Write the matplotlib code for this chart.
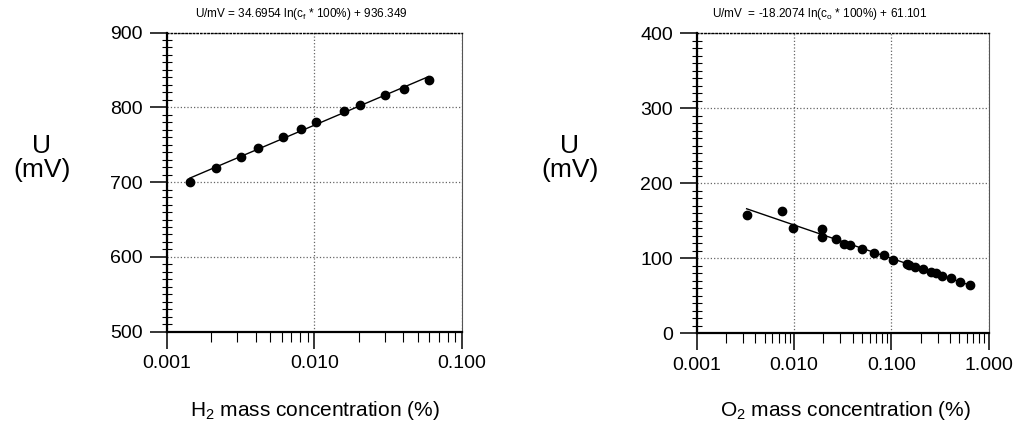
import numpy as np
import matplotlib
matplotlib.use("Agg")
import matplotlib.pyplot as plt
from matplotlib.ticker import LogLocator, MultipleLocator, FixedLocator, NullFormatter

plt.rcParams['font.family'] = ['Liberation Sans', 'DejaVu Sans']
plt.rcParams['mathtext.fontset'] = 'custom'
plt.rcParams['mathtext.rm'] = 'Liberation Sans'
plt.rcParams['mathtext.it'] = 'Liberation Sans'
plt.rcParams['mathtext.default'] = 'regular'

# ---- data ----
h2_conc = [0.00144, 0.00215, 0.00317, 0.00415, 0.0061, 0.0081, 0.0103,
           0.0159, 0.0205, 0.0302, 0.0402, 0.0594]
h2_mv = [700, 719, 734, 746, 760, 771, 781, 795, 803, 817, 825, 836]

o2_conc = [0.00326, 0.00753, 0.00977, 0.0195, 0.0195, 0.0272, 0.0327, 0.0381,
           0.0506, 0.0667, 0.0847, 0.104, 0.144, 0.152, 0.177, 0.210, 0.257,
           0.287, 0.332, 0.411, 0.514, 0.644]
o2_mv = [157.7, 163.1, 140.8, 139.5, 128.1, 125.6, 119.3, 118.0, 112.0, 107.5,
         104.1, 98.4, 92.9, 90.8, 88.4, 85.7, 82.0, 80.1, 76.4, 73.1, 68.8, 64.1]

h2_eq = "U/mV = 34.6954 ln(c$_f$ * 100%) + 936.349"
o2_eq = "U/mV  = -18.2074 ln(c$_o$ * 100%) + 61.101"

h2_xlim = (0.001, 0.1)
h2_ylim = (500, 900)
h2_xticks = [0.001, 0.01, 0.1]
h2_xticklabels = ["0.001", "0.010", "0.100"]

o2_xlim = (0.001, 1.0)
o2_ylim = (0, 400)
o2_xticks = [0.001, 0.01, 0.1, 1.0]
o2_xticklabels = ["0.001", "0.010", "0.100", "1.000"]

W, H = 1018, 437
fig = plt.figure(figsize=(W / 100, H / 100), dpi=100)


def px_axes(x0, x1, ytop, ybot):
    return fig.add_axes([x0 / W, 1 - ybot / H, (x1 - x0) / W, (ybot - ytop) / H])


def style(ax, xlim, ylim, xticks, xlabels):
    ax.set_xscale('log')
    ax.set_xlim(*xlim)
    ax.set_ylim(*ylim)
    ax.set_xticks(xticks)
    ax.set_xticklabels(xlabels)
    ax.xaxis.set_minor_locator(LogLocator(base=10, subs=np.arange(2, 10)))
    ax.xaxis.set_minor_formatter(NullFormatter())
    ax.yaxis.set_major_locator(MultipleLocator(100))
    ax.yaxis.set_minor_locator(MultipleLocator(10))
    ax.tick_params(which='major', direction='out', length=12, width=1.1,
                   labelsize=14, pad=5)
    ax.tick_params(axis='y', which='minor', direction='inout', length=7, width=0.8)
    ax.tick_params(axis='x', which='minor', direction='out', length=7, width=0.8)
    ax.grid(True, which='major', linestyle=':', color='#666666', linewidth=0.9)
    ax.spines['left'].set_linewidth(1.6)
    ax.spines['bottom'].set_linewidth(1.6)
    ax.spines['left'].set_zorder(5)
    ax.spines['bottom'].set_zorder(5)
    ax.spines['top'].set_linestyle(':')
    ax.spines['top'].set_linewidth(1.0)
    ax.spines['right'].set_linewidth(0.8)
    ax.spines['right'].set_color('#555555')


def fit_line(ax, xs, ys):
    xs = np.asarray(xs)
    k, b = np.polyfit(np.log(xs), np.asarray(ys), 1)
    xx = np.array([xs.min(), xs.max()])
    ax.plot(xx, k * np.log(xx) + b, color='black', linewidth=1.0, zorder=3)


ax1 = px_axes(166.7, 462.0, 32.5, 331.7)
style(ax1, h2_xlim, h2_ylim, h2_xticks, h2_xticklabels)
fit_line(ax1, h2_conc, h2_mv)
ax1.plot(h2_conc, h2_mv, 'o', color='black', markersize=6, zorder=4)

ax2 = px_axes(696.7, 988.5, 33.3, 333.3)
style(ax2, o2_xlim, o2_ylim, o2_xticks, o2_xticklabels)
fit_line(ax2, o2_conc, o2_mv)
ax2.plot(o2_conc, o2_mv, 'o', color='black', markersize=6, zorder=4)

# y labels
for xc in (42, 570):
    fig.text(xc / W, 1 - 158 / H, "U\n(mV)", ha='center', va='center',
             fontsize=19, linespacing=1.0)

# x labels
fig.text(315 / W, 1 - 410 / H, "H$_2$ mass concentration (%)", ha='center',
         va='center', fontsize=15)
fig.text(845 / W, 1 - 410 / H, "O$_2$ mass concentration (%)", ha='center',
         va='center', fontsize=15)

# equations
fig.text(301 / W, 1 - 14 / H, h2_eq, ha='center', va='center', fontsize=8.5)
fig.text(820 / W, 1 - 14 / H, o2_eq, ha='center', va='center', fontsize=8.5)

fig.savefig("out.png", dpi=100)
